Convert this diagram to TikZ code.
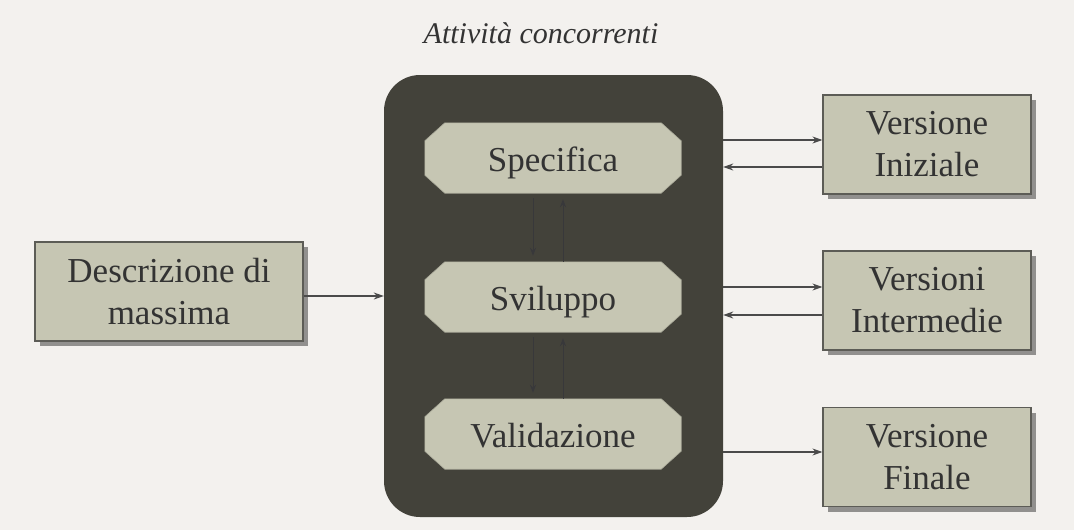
\documentclass[tikz,border=0pt]{standalone}
\usepackage{fontspec}
\setmainfont{Liberation Serif}
\usetikzlibrary{shadows,arrows.meta}
\pgfdeclarelayer{bigl}
\pgfdeclarelayer{octl}
\pgfsetlayers{bigl,octl,main}
\definecolor{bgc}{HTML}{F3F1EE}
\definecolor{darkc}{HTML}{43423A}
\definecolor{lightc}{HTML}{C6C6B3}
\definecolor{edgec}{HTML}{5C5C56}
\definecolor{txtc}{HTML}{333333}
\definecolor{arrc}{HTML}{4A4A4A}
\definecolor{innerc}{HTML}{38383A}
\tikzset{
  outbox/.style={draw=edgec, line width=1.2pt, fill=lightc, minimum width=208pt, minimum height=99pt,
    align=center, font=\fontsize{35}{42}\selectfont, text=txtc, inner sep=0pt,
    drop shadow={shadow xshift=5pt, shadow yshift=-5pt, opacity=0.4, fill=black}},
  actbox/.style={minimum width=256pt, minimum height=70pt, inner sep=0pt,
    text height=26pt, text depth=0pt,
    font=\fontsize{35}{42}\selectfont, text=txtc},
  octfill/.style={fill=lightc, draw=lightc!85!black, line width=0.6pt},
  conn/.style={draw=arrc, line width=1.1pt, -{Stealth[length=10pt,width=7pt]}},
  innerconn/.style={draw=innerc, line width=1pt, -{Stealth[length=8pt,width=6pt]}}
}
\newcommand{\octagonof}[1]{%
  \path[octfill] ([xshift=20pt]#1.north west) -- ([xshift=-20pt]#1.north east)
    -- ([yshift=-18pt]#1.north east) -- ([yshift=18pt]#1.south east)
    -- ([xshift=-20pt]#1.south east) -- ([xshift=20pt]#1.south west)
    -- ([yshift=18pt]#1.south west) -- ([yshift=-18pt]#1.north west) -- cycle;}
\begin{document}
\begin{tikzpicture}[x=1pt,y=-1pt]
\begin{pgfonlayer}{bigl}
\fill[bgc] (0,0) rectangle (1074,530);
\node[fill=darkc, rounded corners=36pt, minimum width=339pt, minimum height=442pt, inner sep=0pt] (big) at (553.5,296) {};
\end{pgfonlayer}
\useasboundingbox (0,0) rectangle (1074,530);
\node[font=\fontsize{30}{34}\selectfont\itshape, text=txtc] (title) at (541,33) {Attività concorrenti};
\node[actbox] (spec) at (553,158) {Specifica};
\node[actbox] (svil) at (553,297) {Sviluppo};
\node[actbox] (val) at (553,434) {Validazione};
\begin{pgfonlayer}{octl}
\octagonof{spec}
\octagonof{svil}
\octagonof{val}
\end{pgfonlayer}
\node[outbox, minimum width=268pt] (desc) at (169,291.5) {Descrizione di\\massima};
\node[outbox] (ini) at (927,144.5) {Versione\\Iniziale};
\node[outbox] (int) at (927,300.5) {Versioni\\Intermedie};
\node[outbox] (fin) at (927,457) {Versione\\Finale};
% inner arrows
\draw[innerconn] ([xshift=-20pt,yshift=-5pt]spec.south) -- ([xshift=-20pt,yshift=6pt]svil.north);
\draw[innerconn] ([xshift=10pt]svil.north) -- ([xshift=10pt,yshift=-6pt]spec.south);
\draw[innerconn] ([xshift=-20pt,yshift=-5pt]svil.south) -- ([xshift=-20pt,yshift=6pt]val.north);
\draw[innerconn] ([xshift=10pt]val.north) -- ([xshift=10pt,yshift=-6pt]svil.south);
% outer arrows
\draw[conn] (desc.east |- big.west) -- (big.west);
\draw[conn] (big.east |- 0,140) -- (ini.west |- 0,140);
\draw[conn] (ini.west |- 0,167) -- (big.east |- 0,167);
\draw[conn] (big.east |- 0,287) -- (int.west |- 0,287);
\draw[conn] (int.west |- 0,315) -- (big.east |- 0,315);
\draw[conn] (big.east |- 0,452) -- (fin.west |- 0,452);
\end{tikzpicture}
\end{document}
